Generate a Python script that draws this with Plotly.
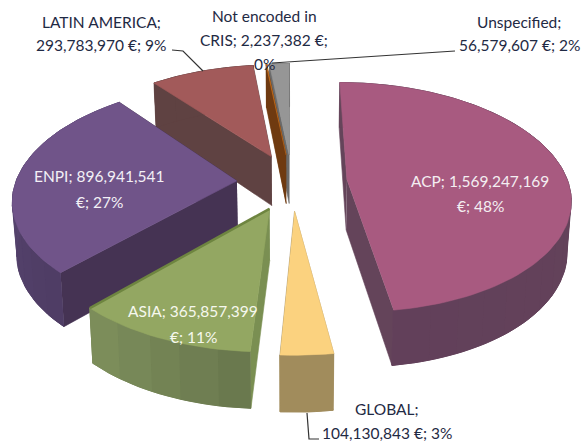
import math
import plotly.graph_objects as go

# ---- data (clockwise from 12 o'clock) ----
categories = ["ACP", "GLOBAL", "ASIA", "ENPI", "LATIN AMERICA", "Not encoded in CRIS", "Unspecified"]
values = [1569247169, 104130843, 365857399, 896941541, 293783970, 2237382, 56579607]
label_lines = [
    ["ACP; 1,569,247,169", "€; 48%"],
    ["GLOBAL;", "104,130,843 €; 3%"],
    ["ASIA; 365,857,399", "€; 11%"],
    ["ENPI; 896,941,541", "€; 27%"],
    ["LATIN AMERICA;", "293,783,970 €; 9%"],
    ["Not encoded in", "CRIS; 2,237,382 €;", "0%"],
    ["Unspecified;", "56,579,607 €; 2%"],
]

# ---- styles ----
top_colors = ["#A85A80", "#FBD27F", "#93A762", "#705489", "#A25A5A", "#C8701E", "#969696"]
wall_a = ["#65455A", "#9A865A", "#68774D", "#4E3C64", "#5F4242", "#6F3A10", "#6A6A6A"]
wall_b = ["#62405A", "#A8915F", "#7E8F5C", "#5E4C78", "#5F4242", "#6F3A10", "#6A6A6A"]
wall_edge = ["#64445A", "#A08A5A", "#7A8F52", "#453353", "#5F4242", "#6F3A10", "#6A6A6A"]
far_edge_accent = [None, None, "#6E8540", None, None, None, None]
label_colors = ["#F4EEF2", "#1F2A44", "#F6F8EE", "#F3F0F6", "#1F2A44", "#1F2A44", "#1F2A44"]
label_centers = [(480, 181), (387, 409), (193, 311), (99, 176), (101, 22), (264, 16), (519, 22)]
line_gaps = [25, 24, 26, 26, 23, 24, 23]
draw_order = [6, 5, 4, 3, 0, 2, 1]

CX, CY = 292, 182
A, B, K, E = 221, 112.6, 0.15, 0.25


def project(px, py):
    d = 1 - K * py
    return CX + A * px / d, CY + B * py / d


def project_low(px, py):
    x, y = project(px, py)
    return CX + (x - CX) * 0.985, y + 50 + 5.5 * py


fig = go.Figure()


def poly(xs, ys, color, width=0.6):
    fig.add_trace(go.Scatter(x=xs, y=ys, mode="lines", fill="toself", fillcolor=color,
                             line=dict(color=color, width=width), hoverinfo="skip", showlegend=False))


def lerp(c1, c2, t):
    a = [int(c1[i:i + 2], 16) for i in (1, 3, 5)]
    b = [int(c2[i:i + 2], 16) for i in (1, 3, 5)]
    return "#%02X%02X%02X" % tuple(round(a[i] + (b[i] - a[i]) * t) for i in range(3))


total = sum(values)
spans = []
acc = 0.0
for v in values:
    spans.append((acc, acc + v / total * 2 * math.pi))
    acc += v / total * 2 * math.pi

for i in draw_order:
    a0, a1 = spans[i]
    mid = (a0 + a1) / 2
    ox, oy = E * math.sin(mid), -E * math.cos(mid)
    n = max(3, int((a1 - a0) / 0.03))
    disc = [(ox + math.sin(a0 + (a1 - a0) * j / n), oy - math.cos(a0 + (a1 - a0) * j / n)) for j in range(n + 1)]
    top = [project(*p) for p in disc]
    low = [project_low(*p) for p in disc]
    ap_t = project(ox, oy)
    ap_l = project_low(ox, oy)
    # radial faces first, rim over them, top face last
    poly([ap_t[0], top[-1][0], low[-1][0], ap_l[0]], [ap_t[1], top[-1][1], low[-1][1], ap_l[1]], wall_edge[i])
    poly([ap_t[0], top[0][0], low[0][0], ap_l[0]], [ap_t[1], top[0][1], low[0][1], ap_l[1]], wall_edge[i])
    # continuous strip under the graded rim so no seams show between its bands
    poly([p[0] for p in top] + [p[0] for p in reversed(low)],
         [p[1] for p in top] + [p[1] for p in reversed(low)], lerp(wall_a[i], wall_b[i], 0.5))
    bands = max(1, n // 4)
    for b in range(bands):
        s, e = b * n // bands, (b + 1) * n // bands
        c = lerp(wall_a[i], wall_b[i], (b + 0.5) / bands)
        poly([p[0] for p in top[s:e + 1]] + [p[0] for p in reversed(low[s:e + 1])],
             [p[1] for p in top[s:e + 1]] + [p[1] for p in reversed(low[s:e + 1])], c, width=1.0)
    poly([ap_t[0]] + [p[0] for p in top], [ap_t[1]] + [p[1] for p in top], top_colors[i])
    if far_edge_accent[i]:
        fig.add_trace(go.Scatter(x=[ap_t[0], top[-1][0]], y=[ap_t[1], top[-1][1]], mode="lines",
                                 line=dict(color=far_edge_accent[i], width=2.5),
                                 hoverinfo="skip", showlegend=False))

# leader lines
leaders = [
    ([172, 183, 203], [50, 51, 71]),
    ([455, 272], [51, 63]),
    ([307, 309, 319], [413, 439, 439]),
]
for lx, ly in leaders:
    fig.add_trace(go.Scatter(x=lx, y=ly, mode="lines", line=dict(color="#333333", width=1.2),
                             hoverinfo="skip", showlegend=False))

annotations = []
for i, lines in enumerate(label_lines):
    cx, cy = label_centers[i]
    for j, t in enumerate(lines):
        annotations.append(dict(x=cx, y=cy + j * line_gaps[i], xref="x", yref="y", text=t, showarrow=False,
                                xanchor="center", yanchor="middle",
                                font=dict(family="Lato", size=15.5, color=label_colors[i])))

fig.update_layout(
    width=582, height=443, margin=dict(l=0, r=0, t=0, b=0),
    paper_bgcolor="white", plot_bgcolor="white", showlegend=False,
    xaxis=dict(range=[0, 582], visible=False, fixedrange=True),
    yaxis=dict(range=[443, 0], visible=False, fixedrange=True),
    annotations=annotations,
)
fig.write_html("out.html", config={"displayModeBar": False},
               post_script="document.body.style.margin='0';document.documentElement.style.overflow='hidden';")
